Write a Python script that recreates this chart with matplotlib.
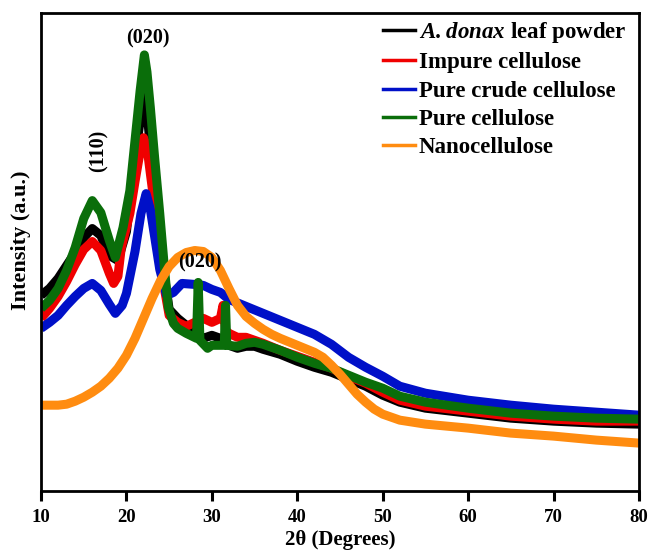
"""XRD patterns of A. donax leaf powder and the cellulose fractions."""
import matplotlib
matplotlib.use("Agg")
import matplotlib.pyplot as plt
from matplotlib.lines import Line2D

# values (intensity in arbitrary units)
donax_2t = [10, 11, 12, 13, 14, 15, 16, 17, 18, 19, 20, 20.4, 21, 21.5, 22, 22.4, 22.8, 23.3, 23.9,
            24.5, 25, 26, 27, 28, 29, 30, 31, 32, 33, 34, 35, 36, 38, 40, 42, 44, 46, 48, 50,
            52, 55, 60, 65, 70, 75, 80]
donax_i = [196, 203, 213, 226, 239, 254, 263, 256, 236, 231, 260, 290, 330, 365, 396, 380, 345, 305, 262,
           212, 182, 173, 166, 161, 153, 156, 153, 146, 143, 145, 145, 142, 137, 130, 124, 119, 112, 105, 96,
           89, 83, 78, 73, 70, 68, 67]

impure_2t = [10, 11, 12, 13, 14, 15, 16, 17, 18, 18.5, 19, 19.4, 20.4, 21, 21.5, 22, 22.4, 22.8, 23.3,
             23.9, 24.5, 25, 26, 27, 28, 29, 30, 31, 31.3, 31.6, 32, 33, 34, 35, 36, 38, 40, 42, 44,
             46, 48, 50, 52, 55, 60, 65, 70, 75, 80]
impure_i = [173, 183, 195, 210, 227, 242, 250, 241, 218, 208, 215, 244, 278, 310, 335, 354, 345, 318, 285,
            240, 200, 176, 169, 165, 169, 173, 169, 173, 186, 161, 158, 154, 154, 151, 148, 141, 135, 129, 123,
            115, 108, 99, 91, 85, 80, 75, 72, 70, 70]

crude_2t = [10, 11, 12, 13, 14, 15, 16, 17, 18, 18.7, 19.5, 20, 21, 21.7, 22.3, 22.8, 23.3, 23.9, 24.7,
            25.5, 26.5, 28, 29, 30, 31, 32, 34, 36, 38, 40, 42, 44, 46, 48, 50,
            52, 55, 60, 65, 70, 75, 80]
crude_i = [163, 169, 176, 186, 195, 203, 208, 201, 187, 178, 186, 198, 240, 278, 298, 282, 255, 222, 196,
           199, 208, 207, 206, 202, 199, 192, 185, 178, 171, 164, 157, 147, 134, 124, 115,
           105, 98, 91, 86, 82, 79, 76]

pure_2t = [10, 11, 12, 13, 14, 15, 16, 17, 18, 18.7, 19.6, 20.4, 21, 21.6, 22.1, 22.4, 22.8, 23.3, 23.9,
           24.5, 24.9, 25.5, 26, 27, 28.2, 28.4, 28.6, 29.5, 30, 31, 31.45, 31.6, 31.75, 33, 34, 35, 36,
           38, 40, 42, 44, 46, 48, 50, 52, 55, 60, 65, 70, 75, 80]
pure_i = [183, 191, 203, 221, 244, 273, 291, 279, 251, 234, 264, 301, 351, 401, 437, 420, 384, 334, 278,
          218, 184, 168, 163, 158, 153, 209, 151, 143, 146, 146, 146, 186, 146, 145, 148, 149, 147,
          141, 134, 128, 123, 116, 109, 103, 95, 89, 83, 78, 75, 73, 72]

nano_2t = [10, 12, 13, 14, 15, 16, 17, 18, 19, 20, 21, 22, 23, 24, 25, 26, 27, 28, 29, 30,
           31, 32, 33, 34, 35, 36, 37, 38, 40, 42, 43, 44, 45, 46, 47, 48, 49, 50,
           52, 55, 60, 65, 70, 75, 80]
nano_i = [86, 86, 87, 90, 94, 99, 105, 113, 123, 136, 153, 173, 193, 211, 225, 234, 239, 241, 240, 234,
          221, 203, 186, 175, 168, 162, 157, 153, 146, 139, 134, 126, 117, 107, 97, 89, 82, 77,
          71, 67, 63, 58, 55, 51, 48]

series = [
    (donax_2t, donax_i, "black", r"$\mathbfit{A. donax}$ leaf powder"),
    (impure_2t, impure_i, "#f00000", "Impure cellulose"),
    (crude_2t, crude_i, "#0010c8", "Pure crude cellulose"),
    (pure_2t, pure_i, "#0a6e0a", "Pure cellulose"),
    (nano_2t, nano_i, "#ff8c10", "Nanocellulose"),
]

plt.rcParams["font.family"] = ["Liberation Serif", "DejaVu Serif"]
plt.rcParams["font.weight"] = "bold"
plt.rcParams["mathtext.fontset"] = "custom"
plt.rcParams["mathtext.bfit"] = "Liberation Serif:bold:italic"

fig = plt.figure(figsize=(6.49, 5.51), dpi=100)
ax = fig.add_axes([0.0632, 0.1089, 0.9214, 0.8675])

handles = []
for x, y, c, lab in series:
    ax.plot(x, y, color=c, lw=6.5, solid_joinstyle="round", solid_capstyle="butt")
    handles.append(Line2D([], [], color=c, lw=2.5, label=lab))

ax.set_xlim(10, 80)
ax.set_ylim(0, 479)
ax.set_xticks(range(10, 81, 10))
ax.set_yticks([])
ax.tick_params(axis="x", direction="out", length=7, width=2.2, labelsize=13.5, pad=6)
for s in ax.spines.values():
    s.set_linewidth(2)
for t in ax.get_xticklabels():
    t.set_fontweight("bold")

ax.set_xlabel("2θ (Degrees)", fontsize=15, fontweight="bold", labelpad=3)
ax.set_ylabel("Intensity (a.u.)", fontsize=16, fontweight="bold")
ax.yaxis.set_label_coords(-0.017, 0.525)

# peak labels
ax.text(22.5, 453, "(020)", ha="center", va="center", fontsize=14.5, fontweight="bold")
ax.text(16.7, 341, "(110)", ha="center", va="center", fontsize=14.5, fontweight="bold", rotation=90)
ax.text(28.6, 229, "(020)", ha="center", va="center", fontsize=14.5, fontweight="bold")

ax.legend(handles=handles, loc="upper right", bbox_to_anchor=(0.9905, 1.0), frameon=False,
          handlelength=1.4, handletextpad=0.15, labelspacing=0.32,
          borderaxespad=0, borderpad=0.3, prop={"weight": "bold", "size": 16.5})

fig.savefig("out.png", dpi=100)
